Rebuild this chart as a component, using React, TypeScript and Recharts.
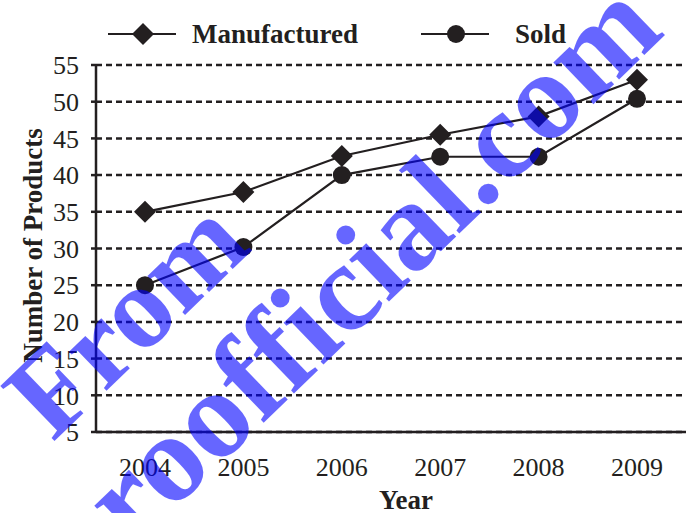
import { LineChart, Line, XAxis, YAxis, CartesianGrid } from "recharts";

const years = ["2004", "2005", "2006", "2007", "2008", "2009"];
const manufactured = [35, 37.7, 42.6, 45.5, 48, 53];
const sold = [25, 30.2, 40, 42.5, 42.5, 50.4];
const yTicks = [5, 10, 15, 20, 25, 30, 35, 40, 45, 50, 55];

const series = [
  { key: "manufactured", name: "Manufactured", shape: "diamond", legendLeft: 108, textGap: 16 },
  { key: "sold", name: "Sold", shape: "circle", legendLeft: 421, textGap: 26 },
];

const data = years.map((year, i) => ({ year, manufactured: manufactured[i], sold: sold[i] }));

const ink = "#231f20";
const serif = '"Liberation Serif", "Times New Roman", serif';

function Marker({ shape, cx, cy }: { shape: string; cx: number; cy: number }) {
  if (shape === "diamond") {
    const h = 11;
    return <polygon points={`${cx},${cy - h} ${cx + h},${cy} ${cx},${cy + h} ${cx - h},${cy}`} fill={ink} />;
  }
  return <circle cx={cx} cy={cy} r={9} fill={ink} />;
}

const dotFor = (shape: string) => (props: any) => {
  if (props.cx == null || props.cy == null) return <g key={props.index} />;
  return (
    <g key={`${shape}-${props.index}`}>
      <Marker shape={shape} cx={props.cx} cy={props.cy} />
    </g>
  );
};

function ChartLegend() {
  return (
    <>
      {series.map((s) => (
        <div
          key={s.key}
          style={{ position: "absolute", top: 21, left: s.legendLeft, display: "flex", alignItems: "center" }}
        >
          <svg width={68} height={26}>
            <line x1={0} x2={68} y1={13} y2={13} stroke={ink} strokeWidth={2.2} />
            <Marker shape={s.shape} cx={35} cy={13} />
          </svg>
          <span
            style={{
              marginLeft: s.textGap,
              fontFamily: serif,
              fontWeight: 700,
              fontSize: 27,
              color: ink,
              lineHeight: "26px",
            }}
          >
            {s.name}
          </span>
        </div>
      ))}
    </>
  );
}

// blue watermark laid over the whole picture
function Watermark() {
  return (
    <svg width={696} height={513} style={{ position: "absolute", left: 0, top: 0, pointerEvents: "none" }}>
      <g fill="#0000ff" fillOpacity={0.6} fontFamily={serif} fontWeight={700}>
        <text x={153} y={346} fontSize={118} textAnchor="middle" transform="rotate(-44 153 346)">
          From
        </text>
        <text x={374} y={316} fontSize={126} textAnchor="middle" transform="rotate(-44 374 316)">
          proofficial.com
        </text>
      </g>
    </svg>
  );
}

export default function App() {
  return (
    <div style={{ position: "absolute", left: 0, top: 0, width: 696, height: 513, background: "#fff" }}>
      <LineChart width={696} height={513} data={data} margin={{ top: 65, right: 10, bottom: 0, left: 0 }}>
        <CartesianGrid vertical={false} stroke={ink} strokeWidth={2.5} strokeDasharray="6 4" />
        <XAxis
          dataKey="year"
          height={81}
          padding={{ left: 49, right: 49 }}
          tickLine={false}
          tickSize={0}
          tickMargin={26}
          axisLine={{ stroke: ink, strokeWidth: 2.5 }}
          tick={{ fill: ink, fontSize: 26, fontFamily: serif }}
          label={{
            content: ({ viewBox }: any) => (
              <text
                x={viewBox.x + viewBox.width / 2 + 15}
                y={viewBox.y + viewBox.height - 4}
                textAnchor="middle"
                fill={ink}
                fontFamily={serif}
                fontWeight={700}
                fontSize={27}
              >
                Year
              </text>
            ),
          }}
        />
        <YAxis
          width={96}
          domain={[5, 55]}
          ticks={yTicks}
          interval={0}
          tickSize={5}
          tickMargin={12}
          tickLine={{ stroke: ink, strokeWidth: 2.5 }}
          axisLine={{ stroke: ink, strokeWidth: 2.5 }}
          tick={{ fill: ink, fontSize: 26, fontFamily: serif }}
          label={{
            content: ({ viewBox }: any) => {
              const cx = 33;
              const cy = viewBox.y + viewBox.height / 2 - 3;
              return (
                <text
                  x={cx}
                  y={cy}
                  textAnchor="middle"
                  dominantBaseline="central"
                  transform={`rotate(-90 ${cx} ${cy})`}
                  fill={ink}
                  fontFamily={serif}
                  fontWeight={700}
                  fontSize={27}
                >
                  Number of Products
                </text>
              );
            },
          }}
        />
        {series.map((s) => (
          <Line
            key={s.key}
            dataKey={s.key}
            name={s.name}
            type="linear"
            stroke={ink}
            strokeWidth={2.2}
            dot={dotFor(s.shape)}
            activeDot={false}
            isAnimationActive={false}
          />
        ))}
      </LineChart>
      <ChartLegend />
      <Watermark />
    </div>
  );
}
